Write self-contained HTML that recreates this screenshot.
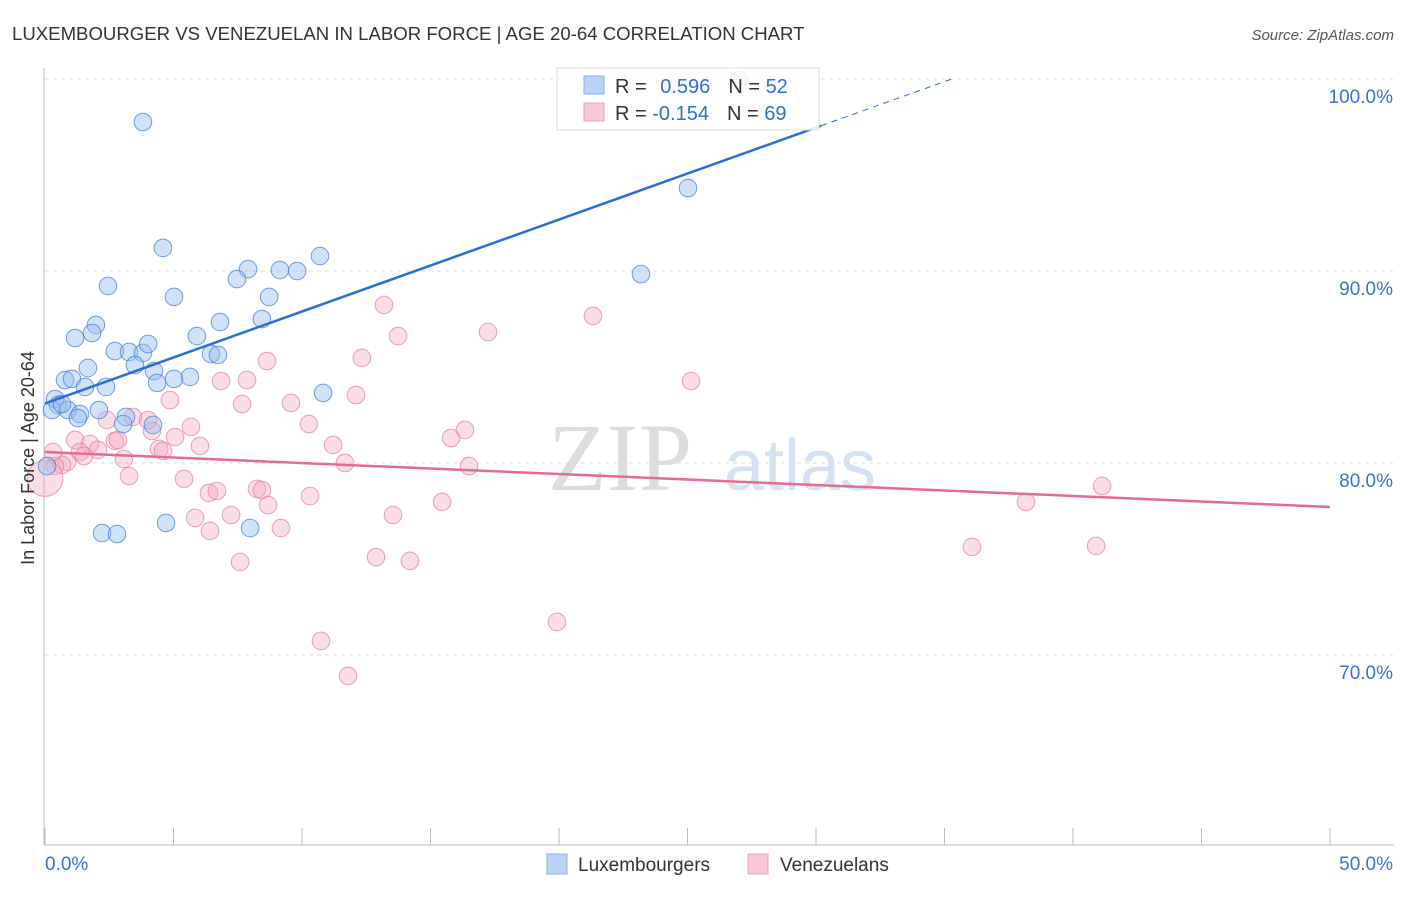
<!DOCTYPE html>
<html><head><meta charset="utf-8"><style>
body{margin:0;background:#fff;font-family:"Liberation Sans",sans-serif}
</style></head><body>
<svg id="c" width="1406" height="892" xmlns="http://www.w3.org/2000/svg">
<text x="12" y="40" font-size="18.6" fill="#333">LUXEMBOURGER VS VENEZUELAN IN LABOR FORCE | AGE 20-64 CORRELATION CHART</text>
<text x="1394" y="40" font-size="15" fill="#555" font-style="italic" text-anchor="end">Source: ZipAtlas.com</text>
<text x="620" y="490" font-size="96" fill="#ddd" font-family="Liberation Serif" text-anchor="middle">ZIP</text>
<text x="800" y="490" font-size="72" fill="#d4e2f4" text-anchor="middle">atlas</text>
<g id="grid"></g><g id="pts"></g><g id="lines"></g>
<text x="34" y="458" font-size="18" fill="#333" text-anchor="middle" transform="rotate(-90 34 458)">In Labor Force | Age 20-64</text>
<g>
<rect x="557" y="68" width="262" height="62" fill="rgba(255,255,255,0.85)" stroke="#ddd"/>
<rect x="584" y="76" width="20" height="18" fill="#b9d2f5" stroke="#8ab0e8"/>
<rect x="584" y="103" width="20" height="18" fill="#f9c8d6" stroke="#f0a0b8"/>
<text x="615" y="93" font-size="20" fill="#333">R = <tspan fill="#2e6fd8" dx="8">0.596</tspan><tspan dx="18" fill="#333">N = </tspan><tspan fill="#2e6fd8">52</tspan></text>
<text x="615" y="120" font-size="20" fill="#333">R = <tspan fill="#2e6fd8">-0.154</tspan><tspan dx="18" fill="#333">N = </tspan><tspan fill="#2e6fd8">69</tspan></text>
</g>
<g>
<rect x="547" y="854" width="20" height="20" fill="#b9d2f5" stroke="#8ab0e8"/>
<text x="578" y="871" font-size="19" fill="#333">Luxembourgers</text>
<rect x="748" y="854" width="20" height="20" fill="#f9c8d6" stroke="#f0a0b8"/>
<text x="780" y="871" font-size="19" fill="#333">Venezuelans</text>
</g>
</svg>
<script>
const yTicks=[100,90,80,70];
const yTickLabels=["100.0%","90.0%","80.0%","70.0%"];
const blueX=[3.81,27.0,25.02,4.59,2.45,5.02,7.9,7.47,9.14,9.81,10.7,8.72,23.19,1.98,1.83,1.17,6.81,5.91,8.44,2.72,3.27,3.81,4.01,6.46,6.73,3.5,1.67,4.24,0.78,1.05,5.02,5.64,1.56,2.37,4.36,10.82,0.39,0.51,0.27,0.89,0.66,1.36,2.1,1.28,3.15,3.04,4.2,4.71,2.22,2.8,7.98,0.08];
const blueY=[97.76,99.95,94.32,91.2,89.22,88.65,90.1,89.58,90.05,90.0,90.78,88.65,89.84,87.19,86.77,86.51,87.34,86.61,87.5,85.83,85.78,85.73,86.2,85.68,85.63,85.1,84.95,84.79,84.32,84.38,84.38,84.48,83.96,83.96,84.17,83.65,83.33,83.02,82.76,82.76,83.07,82.55,82.76,82.34,82.4,82.03,81.98,76.88,76.35,76.3,76.61,79.84];
const pinkX=[13.19,13.74,17.24,21.32,25.14,8.64,12.33,6.85,7.86,4.86,7.67,9.57,12.1,10.27,2.41,3.42,4.01,4.16,5.68,5.06,6.03,11.21,4.44,4.59,16.34,15.8,16.5,11.67,1.17,1.75,2.72,2.84,2.06,1.36,1.52,0.86,0.66,0.39,3.07,3.27,5.41,6.38,6.69,8.25,8.44,8.68,10.31,15.45,13.54,5.84,7.24,6.42,9.18,7.59,12.88,14.2,10.74,11.79,19.92,38.17,41.13,36.07,40.9,0.31,0];
const pinkY=[88.23,86.61,86.82,87.66,84.27,85.31,85.47,84.27,84.32,83.28,83.07,83.13,83.54,82.03,82.24,82.4,82.24,81.67,81.88,81.35,80.89,80.94,80.73,80.63,81.72,81.3,79.84,80.0,81.2,80.99,81.15,81.2,80.68,80.57,80.36,80.05,79.9,79.84,80.21,79.32,79.17,78.44,78.54,78.65,78.59,77.81,78.28,77.97,77.29,77.14,77.29,76.46,76.61,74.84,75.1,74.9,70.73,68.91,71.72,77.97,78.8,75.63,75.68,80.57,79.2];
const blueTrend=[83.1,0.479];
const pinkTrend=[80.57,-0.0572];
const NS="http://www.w3.org/2000/svg";
const X=v=>45+v*25.7, Y=v=>79+(100-v)*19.2;
function mk(p,t,a){const e=document.createElementNS(NS,t);for(const k in a)e.setAttribute(k,a[k]);p.appendChild(e);return e;}
const g=document.getElementById('grid');
yTicks.forEach((t,i)=>{
 const l=mk(g,'line',{x1:45,x2:1394,y1:Y(t),y2:Y(t),stroke:'#ddd','stroke-dasharray':'4 4'});
 
 
 const tx=mk(g,'text',{x:1393,y:Y(t)+24,'font-size':19,fill:'#3a72d8','text-anchor':'end'});tx.textContent=yTickLabels[i];
 
 
});
mk(g,'line',{x1:44,x2:44,y1:68,y2:845,stroke:'#bbb'});
mk(g,'line',{x1:44,x2:1394,y1:845,y2:845,stroke:'#bbb'});
for(let i=0;i<=10;i++){mk(g,'line',{x1:X(i*5),x2:X(i*5),y1:828,y2:845,stroke:'#bbb'});}
let t0=mk(g,'text',{x:45,y:870,'font-size':19,fill:'#3a72d8'});t0.textContent='0.0%';


let t1=mk(g,'text',{x:1393,y:870,'font-size':19,fill:'#3a72d8','text-anchor':'end'});t1.textContent='50.0%';


const p=document.getElementById('pts');
pinkX.forEach((x,i)=>{const c=mk(p,'circle',{cx:X(x),cy:Y(pinkY[i]),r:(i==pinkX.length-1?18:8.8),fill:'rgba(246,170,195,0.4)',stroke:'rgba(230,120,155,0.7)','stroke-width':1});
 
 });
blueX.forEach((x,i)=>{const c=mk(p,'circle',{cx:X(x),cy:Y(blueY[i]),r:8.8,fill:'rgba(150,190,240,0.45)',stroke:'rgba(60,120,210,0.7)','stroke-width':1});
 
 });
const L=document.getElementById('lines');
const xe=30.2, xd=(100-blueTrend[0])/blueTrend[1];
let b=mk(L,'line',{x1:X(0),y1:Y(blueTrend[0]),x2:X(xe),y2:Y(blueTrend[0]+blueTrend[1]*xe),stroke:'#2a6fd6','stroke-width':2.5});


mk(L,'line',{x1:X(xe),y1:Y(blueTrend[0]+blueTrend[1]*xe),x2:X(xd),y2:Y(100),stroke:'#2a6fd6','stroke-width':1,'stroke-dasharray':'6 5'});
let pk=mk(L,'line',{x1:X(0),y1:Y(pinkTrend[0]),x2:X(50),y2:Y(pinkTrend[0]+pinkTrend[1]*50),stroke:'#e86a94','stroke-width':2.5});


</script>
</body></html>
